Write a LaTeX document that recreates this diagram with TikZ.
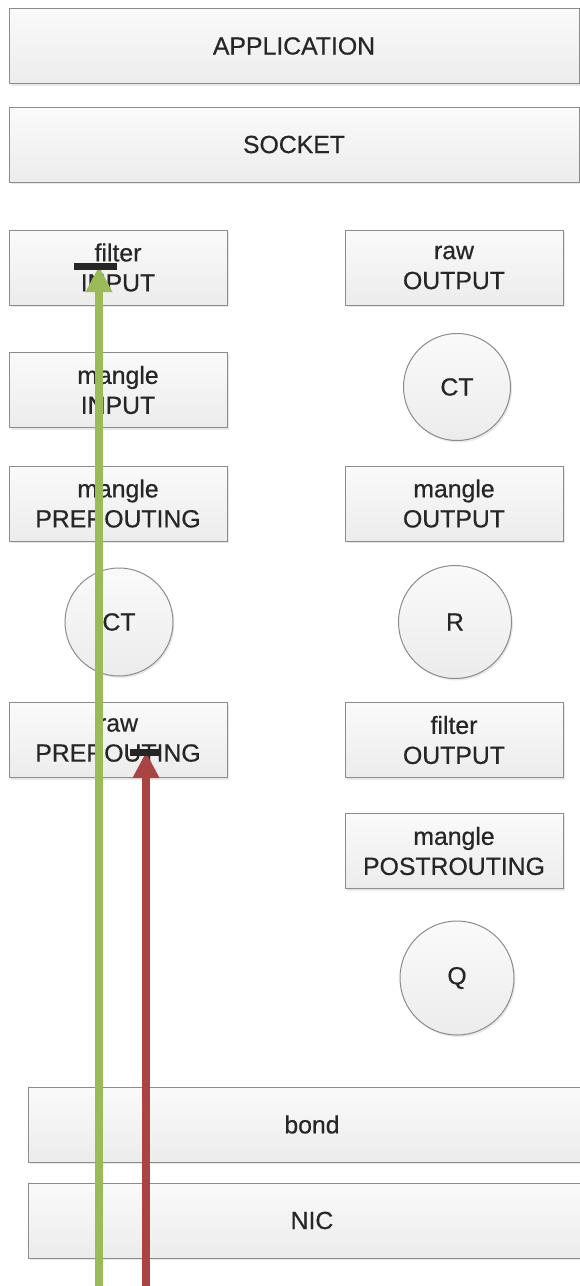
\documentclass[tikz,border=0pt]{standalone}
\usepackage{fontspec}
\setmainfont{Liberation Sans}[FakeBold=0.5]
\usetikzlibrary{arrows.meta,shadows}
\definecolor{boxline}{HTML}{8C8C8C}
\definecolor{boxtop}{HTML}{FAFAFA}
\definecolor{boxbot}{HTML}{ECECEC}
\definecolor{txt}{HTML}{262626}
\definecolor{inpath}{HTML}{9BBB59}
\definecolor{rawpath}{HTML}{A94442}
\tikzset{
  base/.style={draw=boxline, line width=1pt, top color=boxtop, bottom color=boxbot,
    text=txt, align=center, inner sep=0pt,
    font=\fontsize{24.8}{30}\selectfont,
    drop shadow={opacity=0.18, shadow xshift=1.5pt, shadow yshift=-2pt}},
  hook/.style={base, rectangle, minimum width=218pt, minimum height=75pt},
  layer/.style={base, rectangle, minimum height=75pt},
  track/.style={base, circle},
  flow/.style={line width=8pt, -{Triangle[length=26pt,width=25pt]}},
  stopbar/.style={fill=black!85, draw=none}
}
\begin{document}
\begin{tikzpicture}[x=1pt,y=-1pt]
\useasboundingbox (0,0) rectangle (580,1286);

% stack layers
\node[layer, minimum width=570pt] (app) at (294,46) {APPLICATION};
\node[layer, minimum width=570pt] (sock) at (294,144.5) {SOCKET};
\node[layer, minimum width=568pt] (bond) at (312,1124.5) {bond};
\node[layer, minimum width=568pt] (nic) at (312,1220.5) {NIC};

% receive side
\node[hook] (filin) at (118,267.5) {filter\\INPUT};
\node[hook] (manin) at (118,390) {mangle\\INPUT};
\node[hook] (manpre) at (118,503.5) {mangle\\PREROUTING};
\node[track, minimum size=108pt] (ctin) at (119,622) {CT};
\node[hook] (rawpre) at (118,740) {raw\\PREROUTING};

% send side
\node[hook] (rawout) at (454,267.5) {raw\\OUTPUT};
\node[track, minimum size=107pt] (ctout) at (457,387) {CT};
\node[hook] (manout) at (454,503.5) {mangle\\OUTPUT};
\node[track, minimum size=113pt] (rt) at (455,622) {R};
\node[hook] (filout) at (454,740) {filter\\OUTPUT};
\node[hook] (manpost) at (454,851) {mangle\\POSTROUTING};
\node[track, minimum size=114pt] (qd) at (457,978) {Q};

% packet paths
\coordinate (gin) at (99,1286);
\coordinate (gend) at (99,266);
\coordinate (rin) at (146,1286);
\coordinate (rend) at (146,752);
\draw[flow, inpath] (gin) -- (gend);
\draw[flow, rawpath] (rin) -- (rend);
\fill[stopbar] (74,263) rectangle (117,270);
\fill[stopbar] (130,748.5) rectangle (160,755.5);
\end{tikzpicture}
\end{document}
